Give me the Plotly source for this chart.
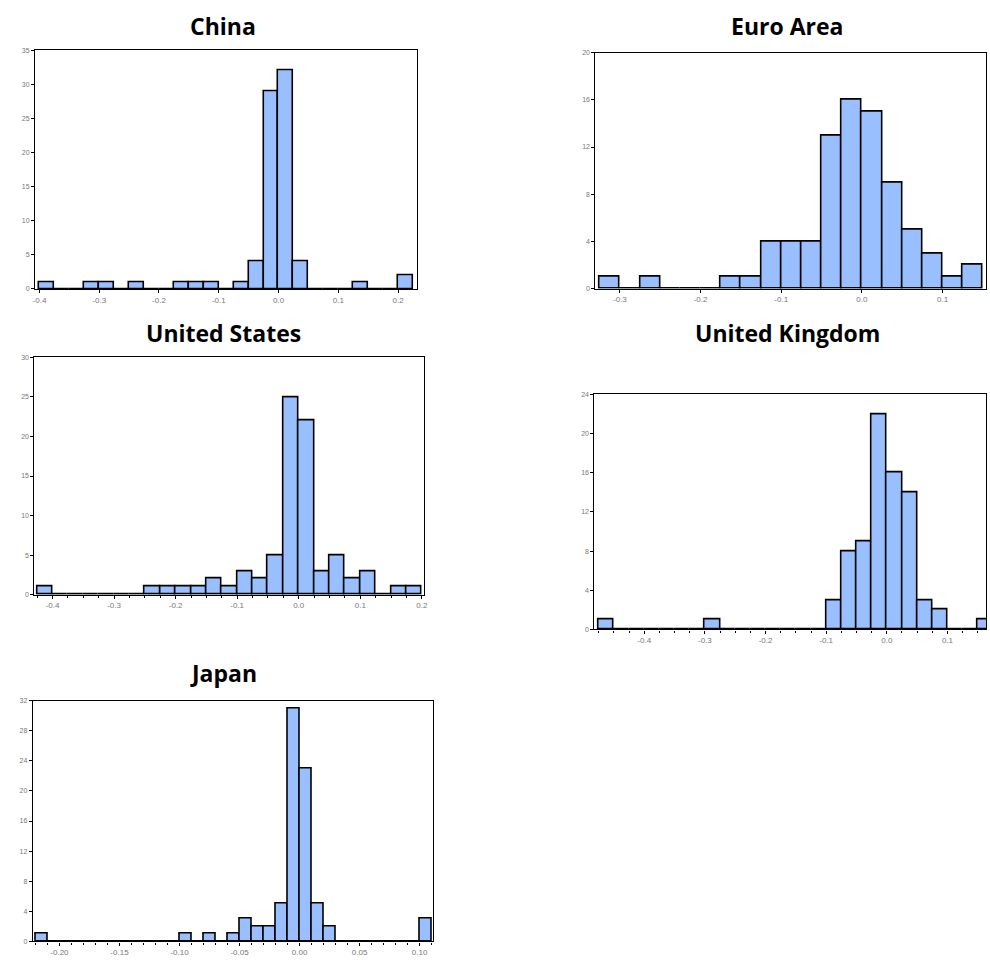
import plotly.graph_objects as go

# ---- data (bin counts, bin start, bin width) ----
china_counts = [1,0,0,1,1,0,1,0,0,1,1,1,0,1,4,29,32,4,0,0,0,1,0,0,2]
china_start, china_w = -0.4, 0.025
china_ticks = [-0.4, -0.3, -0.2, -0.1, 0.0, 0.1, 0.2]

euro_counts = [1,0,1,0,0,0,1,1,4,4,4,13,16,15,9,5,3,1,2]
euro_start, euro_w = -0.325, 0.025
euro_ticks = [-0.3, -0.2, -0.1, 0.0, 0.1]

us_counts = [1,0,0,0,0,0,0,1,1,1,1,2,1,3,2,5,25,22,3,5,2,3,0,1,1]
us_start, us_w = -0.425, 0.025
us_ticks = [-0.4, -0.3, -0.2, -0.1, 0.0, 0.1, 0.2]

uk_counts = [1,0,0,0,0,0,0,1,0,0,0,0,0,0,0,3,8,9,22,16,14,3,2,0,0,1]
uk_start, uk_w = -0.475, 0.025
uk_ticks = [-0.4, -0.3, -0.2, -0.1, 0.0, 0.1]

jp_counts = [1,0,0,0,0,0,0,0,0,0,0,0,1,0,1,0,1,3,2,2,5,31,23,5,2,0,0,0,0,0,0,0,3]
jp_start, jp_w = -0.22, 0.01
jp_ticks = [-0.20, -0.15, -0.10, -0.05, 0.00, 0.05, 0.10]

titles = ["China", "Euro Area", "United States", "United Kingdom", "Japan"]

W, H = 990, 961
panels = [
    # counts, start, width, ticks, fmt, xrange, yrange, dtick, px box (l, r, t, b), minor, title pos
    (china_counts, china_start, china_w, china_ticks, ".1f", [-0.4073, 0.2322], [0, 35], 5, (32.3, 417.3, 46.7, 287), False, (222, 22)),
    (euro_counts, euro_start, euro_w, euro_ticks, ".1f", [-0.3303, 0.1538], [0, 20], 4, (596.7, 990, 49, 286.7), False, (790, 22)),
    (us_counts, us_start, us_w, us_ticks, ".1f", [-0.4293, 0.2035], [0, 30], 5, (31.7, 424, 356, 595), True, (222, 331)),
    (uk_counts, uk_start, uk_w, uk_ticks, ".1f", [-0.482, 0.1635], [0, 24], 4, (595.7, 990, 393.3, 630), True, (790, 331)),
    (jp_counts, jp_start, jp_w, jp_ticks, ".2f", [-0.2222, 0.1111], [0, 32], 4, (30, 433, 701.7, 944.3), True, (222, 674)),
]

fig = go.Figure()
annotations = []
for i, (counts, start, w, ticks, fmt, xr, yr, dt, box, minor, tpos) in enumerate(panels):
    n = i + 1
    xs = [start + w * (k + 0.5) for k in range(len(counts))]
    xa = "x" if n == 1 else f"x{n}"
    ya = "y" if n == 1 else f"y{n}"
    fig.add_trace(go.Bar(
        x=xs, y=counts, width=w, xaxis=xa, yaxis=ya,
        marker=dict(color="#99BFFF", line=dict(color="black", width=1.6)),
        showlegend=False, hoverinfo="x+y",
    ))
    l, r, t, b = box
    xdom = [l / W, min(r / W, 1.0)]
    ydom = [1 - b / H, 1 - t / H]
    xkey = "xaxis" if n == 1 else f"xaxis{n}"
    ykey = "yaxis" if n == 1 else f"yaxis{n}"
    xaxis = dict(
        domain=xdom, range=xr, anchor=ya, tickvals=ticks,
        ticktext=[format(0.0 if abs(v) < 1e-9 else v, fmt) for v in ticks],
        ticks="outside", ticklen=3, tickwidth=1, tickcolor="black",
        showline=True, linecolor="black", linewidth=1.2, mirror=True,
        showgrid=False, zeroline=False,
        tickfont=dict(size=8, color="#777777", family="Liberation Sans"),
    )
    if minor:
        xaxis["minor"] = dict(dtick=w, tick0=start, ticks="outside", ticklen=2, tickcolor="black", showgrid=False)
    fig.layout[xkey] = xaxis
    fig.layout[ykey] = dict(
        domain=ydom, range=yr, anchor=xa, dtick=dt, tick0=0,
        ticks="outside", ticklen=3, tickwidth=1, tickcolor="black",
        showline=True, linecolor="black", linewidth=1.2, mirror=True,
        showgrid=False, zeroline=False,
        tickfont=dict(size=7, color="#777777", family="Liberation Sans"),
    )
    annotations.append(dict(
        text=f"<b>{titles[i]}</b>", x=tpos[0] / W, y=1 - tpos[1] / H,
        xref="paper", yref="paper", xanchor="center", yanchor="middle",
        showarrow=False, font=dict(size=23, color="black", family="Open Sans"),
    ))

fig.update_layout(
    width=W, height=H, margin=dict(l=0, r=0, t=0, b=0),
    paper_bgcolor="white", plot_bgcolor="white", bargap=0,
    annotations=annotations,
)
fig.write_html("out.html", config={"displayModeBar": False},
               post_script="document.body.style.margin='0';document.body.style.overflow='hidden';")
